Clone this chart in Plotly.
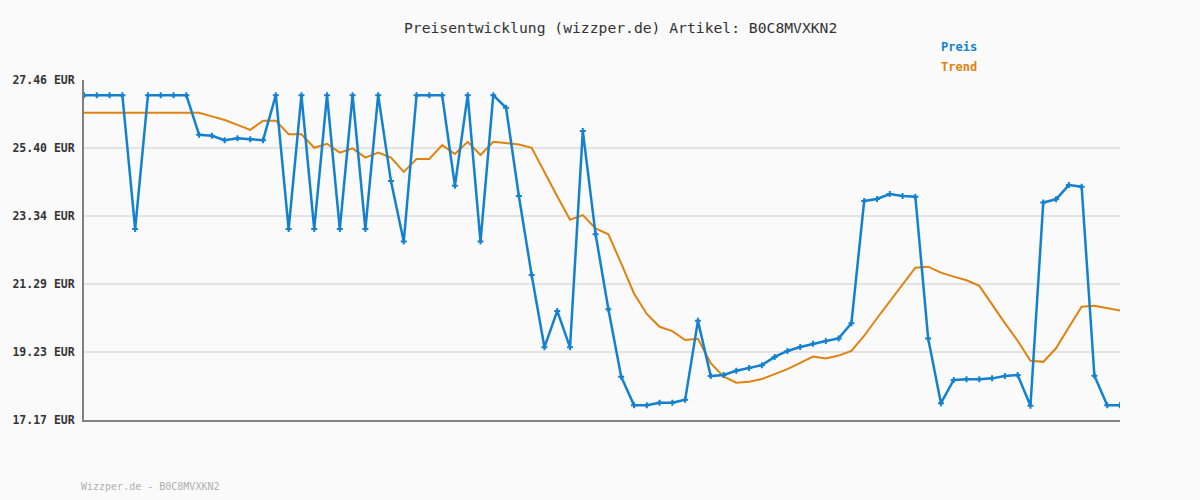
import plotly.graph_objects as go

preis = [27.0, 27.0, 27.0, 27.0, 22.95, 27.0, 27.0, 27.0, 27.0, 25.80,
         25.77, 25.64, 25.70, 25.67, 25.64, 27.0, 22.95, 27.0, 22.95, 27.0,
         22.95, 27.0, 22.95, 27.0, 24.40, 22.57, 27.0, 27.0, 27.0, 24.26,
         27.0, 22.57, 27.0, 26.62, 23.95, 21.56, 19.37, 20.47, 19.37, 25.92,
         22.79, 20.52, 18.48, 17.62, 17.62, 17.69, 17.69, 17.78, 20.17, 18.50,
         18.53, 18.66, 18.74, 18.83, 19.08, 19.26, 19.38, 19.48, 19.56, 19.64,
         20.10, 23.80, 23.86, 24.01, 23.95, 23.93, 19.64, 17.68, 18.38, 18.40,
         18.40, 18.43, 18.50, 18.53, 17.60, 23.75, 23.85, 24.28, 24.23, 18.51,
         17.62, 17.62]

trend = [26.47, 26.47, 26.47, 26.47, 26.47, 26.47, 26.47, 26.47, 26.47, 26.47,
         26.36, 26.25, 26.10, 25.95, 26.23, 26.23, 25.82, 25.82, 25.41, 25.53,
         25.26, 25.39, 25.11, 25.26, 25.11, 24.68, 25.07, 25.07, 25.49, 25.22,
         25.59, 25.19, 25.59, 25.56, 25.51, 25.41, 24.66, 23.94, 23.23, 23.37,
         22.97, 22.79, 21.91, 21.00, 20.38, 19.99, 19.86, 19.59, 19.63, 18.89,
         18.49, 18.30, 18.33, 18.41, 18.56, 18.71, 18.90, 19.09, 19.03, 19.12,
         19.26, 19.72, 20.25, 20.77, 21.28, 21.78, 21.81, 21.63, 21.51, 21.40,
         21.23, 20.65, 20.10, 19.57, 18.96, 18.93, 19.34, 19.98, 20.60, 20.63,
         20.55, 20.48]

y_ticks = [17.17, 19.23, 21.29, 23.34, 25.40, 27.46]
y_ticktext = [f"{v:.2f} EUR" for v in y_ticks]
title_text = "Preisentwicklung (wizzper.de) Artikel: B0C8MVXKN2"
footer_text = "Wizzper.de - B0C8MVXKN2"

x = list(range(len(preis)))

BLUE = "#1381cf"
ORANGE = "#e0820f"
MONO = "DejaVu Sans Mono, Liberation Mono, monospace"

fig = go.Figure()
fig.add_trace(go.Scatter(x=x, y=trend, mode="lines", name="Trend",
                         line=dict(color=ORANGE, width=2), showlegend=False))
fig.add_trace(go.Scatter(x=x, y=preis, mode="lines+markers", name="Preis",
                         line=dict(color=BLUE, width=2.5),
                         marker=dict(symbol="cross", size=5, color=BLUE),
                         showlegend=False))

fig.update_layout(
    width=1200, height=500,
    margin=dict(l=80, r=80, t=80, b=80),
    paper_bgcolor="#fafafa", plot_bgcolor="#fafafa",
    font=dict(family=MONO, color="#333333"),
    xaxis=dict(range=[0, len(preis) - 1], showgrid=False, zeroline=False,
               showticklabels=False, ticks="", showline=True,
               linecolor="#808080", linewidth=2),
    yaxis=dict(range=[y_ticks[0], y_ticks[-1]], tickvals=y_ticks, ticktext=y_ticktext,
               showgrid=True, gridcolor="#e4e4e4", gridwidth=2, zeroline=False,
               showline=True, linecolor="#808080", linewidth=2, ticks="",
               ticklabelstandoff=5,
               tickfont=dict(family=MONO, size=11.5, color="#333333", weight="bold")),
)

fig.add_annotation(text=title_text, xref="paper", yref="paper", x=0.518, y=1.153,
                   showarrow=False, font=dict(family=MONO, size=14.7, color="#333333"),
                   xanchor="center", yanchor="middle")
fig.add_annotation(text="Preis", xref="paper", yref="paper", x=0.825, y=1.097,
                   showarrow=False, font=dict(family=MONO, size=12, color=BLUE, weight="bold"),
                   xanchor="left", yanchor="middle")
fig.add_annotation(text="Trend", xref="paper", yref="paper", x=0.825, y=1.038,
                   showarrow=False, font=dict(family=MONO, size=12, color=ORANGE, weight="bold"),
                   xanchor="left", yanchor="middle")
fig.add_annotation(text=footer_text, xref="paper", yref="paper", x=-0.005, y=-0.197,
                   showarrow=False, font=dict(family=MONO, size=10, color="#b0b0b0"),
                   xanchor="left", yanchor="middle")

fig.write_html("out.html", config={"displayModeBar": False},
               post_script="document.body.style.margin='0';document.body.style.background='#fafafa';")
